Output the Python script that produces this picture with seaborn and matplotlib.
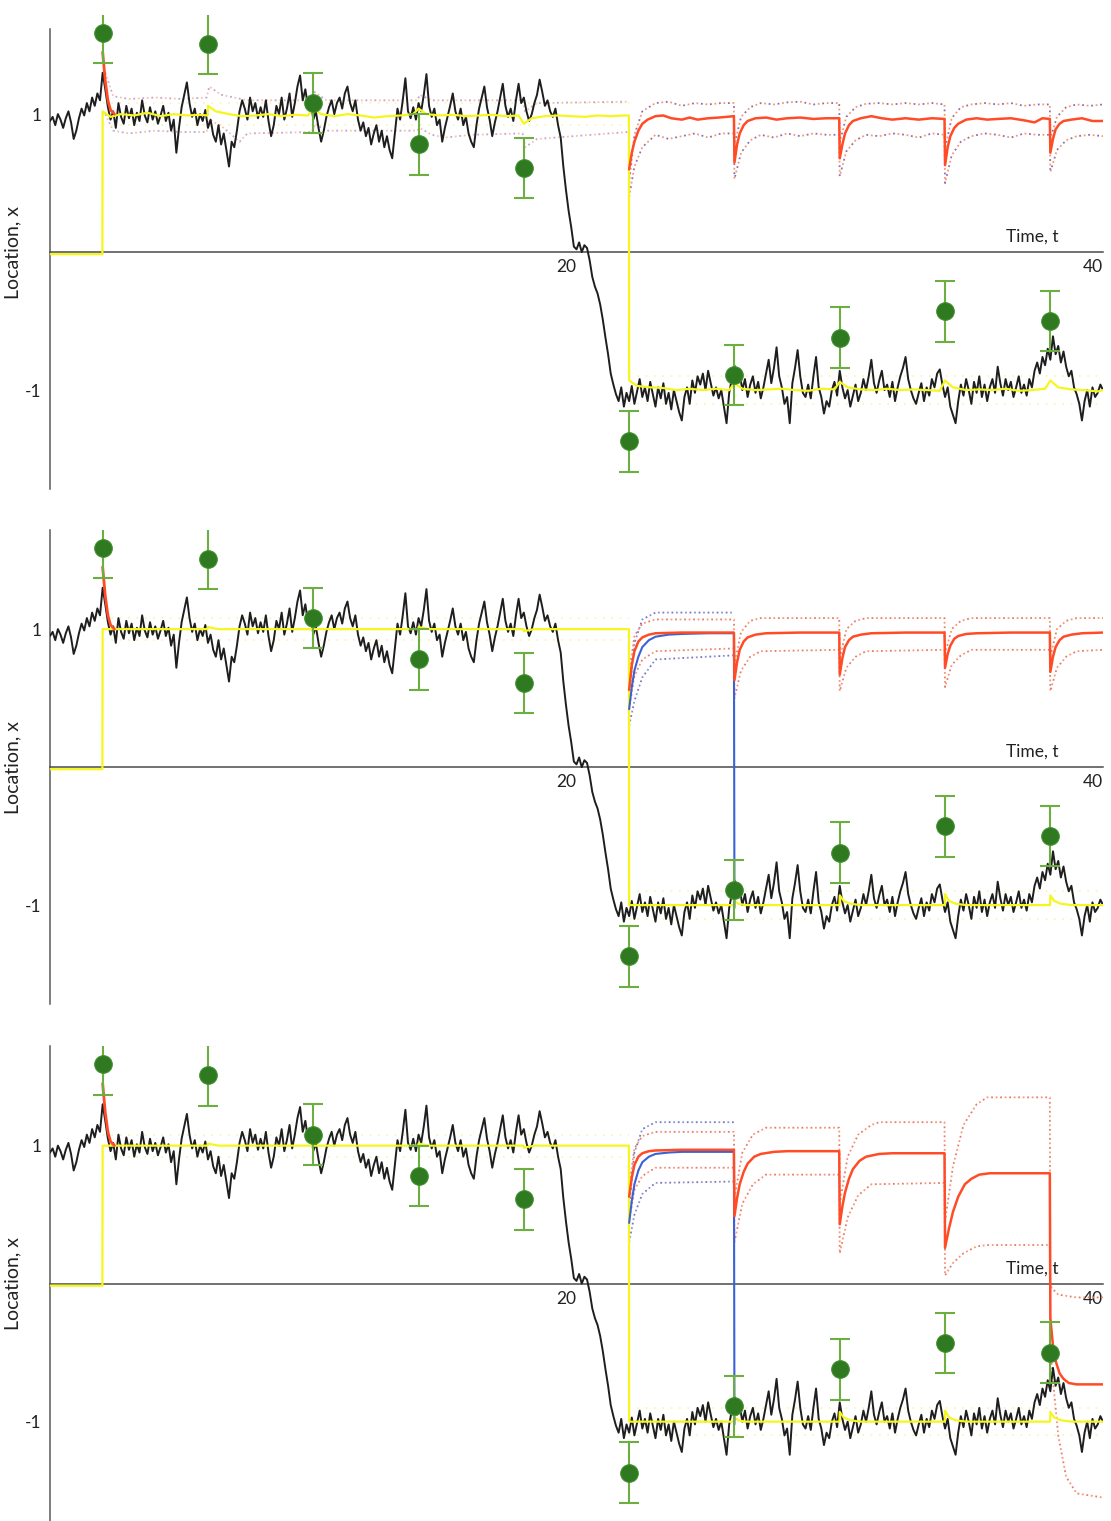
import numpy as np
import pandas as pd
import matplotlib
matplotlib.use("Agg")
import matplotlib.pyplot as plt
import seaborn as sns

# ---------------- data ----------------
time_step = 0.1
trajectory = [
    0.95, 0.98, 0.92, 1.00, 0.96, 0.90, 0.97, 1.02, 0.94, 0.82,
    0.88, 0.97, 1.04, 0.99, 1.08, 1.02, 1.12, 1.06, 1.15, 1.10,
    1.30, 1.18, 1.05, 0.96, 1.02, 0.90, 1.08, 0.98, 0.93, 1.06,
    0.97, 1.04, 0.92, 1.01, 0.95, 1.10, 0.99, 0.94, 1.05, 0.96,
    1.02, 0.93, 0.99, 1.06, 0.95, 1.01, 0.88, 0.96, 0.72, 0.90,
    1.05, 1.14, 1.23, 1.08, 0.98, 1.04, 0.92, 1.00, 0.95, 1.03,
    0.90, 0.96, 0.85, 0.80, 0.92, 0.78, 0.86, 0.74, 0.62, 0.80,
    0.76, 0.88, 1.02, 1.10, 1.04, 0.96, 1.12, 1.02, 1.08, 0.97,
    1.05, 0.98, 1.10, 0.95, 0.84, 0.92, 1.06, 1.00, 1.12, 0.96,
    1.04, 1.15, 0.98, 1.08, 1.20, 1.28, 1.10, 1.18, 1.05, 1.12,
    0.96, 1.02, 0.90, 0.80, 0.88, 0.98, 1.05, 1.10, 1.00, 1.08,
    1.12, 1.04, 1.15, 1.20, 1.08, 1.02, 1.10, 0.96, 0.88, 0.94,
    0.84, 0.90, 0.78, 0.86, 0.92, 0.80, 0.88, 0.76, 0.84, 0.74,
    0.68, 0.86, 1.04, 0.96, 1.10, 1.26, 1.02, 0.97, 1.05, 0.96,
    1.08, 1.02, 1.14, 1.29, 1.06, 0.98, 1.04, 0.92, 0.96, 0.80,
    0.90, 0.98, 1.06, 1.15, 1.02, 0.96, 1.04, 0.92, 0.98, 0.86,
    0.80, 0.76, 0.92, 1.04, 1.12, 1.20, 1.05, 0.96, 0.84, 0.94,
    1.02, 1.12, 1.22, 1.06, 0.98, 1.04, 0.95, 1.10, 1.22, 1.08,
    1.12, 1.02, 0.95, 1.00, 1.08, 1.14, 1.25, 1.16, 1.06, 1.10,
    1.02, 0.98, 1.04, 0.92, 0.83, 0.62, 0.45, 0.30, 0.18, 0.04,
    0.02, 0.07, 0.00, 0.05, 0.03, -0.06, -0.18, -0.25, -0.30, -0.38,
    -0.49, -0.62, -0.74, -0.88, -0.96, -1.03, -1.08, -0.98, -1.12, -1.02,
    -1.08, -0.97, -1.10, -1.01, -0.92, -1.05, -0.98, -1.08, -0.94, -1.03,
    -1.12, -0.98, -1.06, -0.95, -1.10, -1.02, -1.14, -1.00, -1.08, -1.16,
    -1.22, -1.05, -0.98, -1.10, -0.93, -1.02, -0.90, -0.96, -0.88, -1.00,
    -0.86, -0.95, -1.04, -0.98, -1.06, -1.00, -1.12, -1.24, -1.02, -0.92,
    -0.82, -0.95, -0.88, -1.00, -0.92, -1.05, -0.96, -0.90, -1.02, -0.94,
    -1.06, -0.98, -0.88, -0.78, -0.95, -0.84, -0.69, -0.90, -0.98, -1.10,
    -1.05, -1.24, -0.95, -0.84, -0.71, -0.90, -1.02, -1.05, -0.96, -1.06,
    -0.90, -0.76, -0.98, -1.05, -1.17, -1.08, -1.12, -1.00, -0.94, -1.04,
    -0.86, -0.98, -1.06, -1.00, -1.12, -1.04, -0.96, -1.08, -1.02, -0.92,
    -1.00, -0.90, -0.78, -0.95, -1.02, -0.93, -0.86, -1.00, -0.96, -1.05,
    -0.94, -1.08, -0.98, -0.90, -0.84, -0.76, -0.92, -1.00, -1.06, -1.10,
    -1.02, -0.95, -1.08, -0.98, -1.04, -0.92, -0.98, -0.88, -0.85, -0.96,
    -1.05, -0.98, -1.12, -1.18, -1.24, -1.08, -0.96, -1.04, -0.92, -1.00,
    -1.10, -0.94, -1.02, -0.90, -1.05, -0.96, -1.08, -0.98, -0.92, -1.02,
    -0.83, -0.95, -1.04, -0.92, -1.00, -0.94, -1.05, -0.98, -0.90, -1.02,
    -0.96, -1.04, -0.92, -0.98, -0.86, -0.80, -0.88, -0.76, -0.82, -0.70,
    -0.78, -0.61, -0.74, -0.68, -0.80, -0.72, -0.83, -0.90, -0.86, -0.98,
    -1.03, -1.10, -1.22, -1.08, -1.00, -1.12, -0.98, -1.05, -1.02, -0.96,
    -1.00,
]

obs_time = [2, 6, 10, 14, 18, 22, 26, 30, 34, 38]
obs_value = [1.59, 1.51, 1.08, 0.78, 0.61, -1.37, -0.89, -0.62, -0.43, -0.50]
obs_err = [0.22, 0.22, 0.22, 0.22, 0.22, 0.22, 0.22, 0.22, 0.22, 0.22]

yellow_p1 = [
    (0, -0.015), (1.99, -0.015), (2.0, 1.02), (2.3, 0.98), (2.7, 1.0), (3.2, 0.99),
    (3.7, 1.01), (4.2, 0.985), (4.7, 1.0), (5.2, 0.99), (5.7, 0.995), (5.99, 0.99),
    (6.0, 1.06), (6.3, 1.02), (6.8, 1.0), (7.3, 0.985), (7.8, 0.99), (8.3, 1.0),
    (8.8, 0.985), (9.3, 0.995), (9.8, 0.99), (10.0, 1.04), (10.3, 1.0), (10.8, 0.985),
    (11.3, 1.0), (11.8, 0.99), (12.3, 0.975), (12.8, 0.985), (13.3, 0.99), (13.8, 1.0),
    (14.0, 1.04), (14.3, 1.0), (14.8, 0.99), (15.3, 0.995), (15.8, 0.985), (16.3, 0.99),
    (16.8, 0.995), (17.3, 0.985), (17.8, 0.99), (18.0, 0.93), (18.3, 0.97), (18.8, 0.985),
    (19.3, 0.99), (19.8, 0.985), (20.3, 0.98), (20.8, 0.99), (21.3, 0.985), (21.8, 0.99),
    (21.99, 0.99), (22.0, -0.93), (22.3, -0.97), (22.8, -0.98), (23.3, -0.985), (23.8, -1.0),
    (24.3, -0.99), (24.8, -1.0), (25.3, -0.99), (25.8, -1.0), (26.0, -0.95), (26.3, -0.99),
    (26.8, -1.0), (27.3, -0.995), (27.8, -0.99), (28.3, -1.0), (28.8, -1.005), (29.3, -0.99),
    (29.8, -0.995), (30.0, -0.94), (30.3, -0.98), (30.8, -0.995), (31.3, -1.0), (31.8, -0.99),
    (32.3, -1.0), (32.8, -0.995), (33.3, -1.0), (33.8, -1.005), (34.0, -0.93), (34.3, -0.98),
    (34.8, -1.0), (35.3, -0.995), (35.8, -1.0), (36.3, -0.99), (36.8, -1.005), (37.3, -1.0),
    (37.8, -0.99), (38.0, -0.93), (38.3, -0.98), (38.8, -0.995), (39.3, -1.0), (39.8, -1.01),
    (40.0, -1.0),
]
yellow_smooth = [
    (0, -0.015), (1.99, -0.015), (2.0, 1.0), (5.99, 1.0), (6.0, 1.015), (6.4, 1.0),
    (13.99, 1.0), (14.0, 1.015), (14.4, 1.0), (17.99, 1.0), (18.0, 0.985), (18.4, 1.0),
    (21.99, 1.0), (22.0, -1.0), (25.99, -1.0), (26.0, -0.97), (26.15, -0.99), (26.4, -1.0),
    (29.99, -1.0), (30.0, -0.93), (30.15, -0.97), (30.4, -0.99), (30.8, -1.0), (33.99, -1.0),
    (34.0, -0.92), (34.15, -0.97), (34.4, -0.99), (34.8, -1.0), (37.99, -1.0), (38.0, -0.93),
    (38.15, -0.97), (38.4, -0.99), (38.8, -1.0), (40.0, -1.0),
]
yellow_env_segments = [
    [(2.0, 1.08), (21.98, 1.08)], [(2.0, 0.92), (21.98, 0.92)],
    [(22.0, -0.9), (40.0, -0.9)], [(22.0, -1.1), (40.0, -1.1)],
]

red_spike = [(2.0, 1.45), (2.1, 1.24), (2.2, 1.10), (2.3, 1.03), (2.45, 1.0)]

red_p1 = [
    (22.0, 0.60), (22.1, 0.72), (22.2, 0.80), (22.35, 0.88), (22.5, 0.93), (22.7, 0.96),
    (23.0, 0.985), (23.3, 0.99), (23.6, 0.97), (24.0, 0.96), (24.3, 0.975), (24.6, 0.96),
    (25.0, 0.97), (25.4, 0.975), (25.7, 0.98), (25.98, 0.985),
    (26.0, 0.65), (26.1, 0.78), (26.2, 0.86), (26.35, 0.92), (26.5, 0.95), (26.8, 0.97),
    (27.2, 0.975), (27.6, 0.96), (28.0, 0.97), (28.5, 0.975), (29.0, 0.965), (29.5, 0.97),
    (29.98, 0.97),
    (30.0, 0.68), (30.1, 0.78), (30.2, 0.86), (30.35, 0.92), (30.5, 0.95), (30.8, 0.97),
    (31.2, 0.985), (31.6, 0.97), (32.0, 0.96), (32.5, 0.97), (33.0, 0.96), (33.5, 0.97),
    (33.98, 0.965),
    (34.0, 0.63), (34.1, 0.76), (34.2, 0.84), (34.35, 0.90), (34.5, 0.93), (34.8, 0.96),
    (35.2, 0.97), (35.6, 0.96), (36.0, 0.965), (36.5, 0.97), (37.0, 0.955), (37.4, 0.94),
    (37.7, 0.97), (37.98, 0.965),
    (38.0, 0.72), (38.1, 0.82), (38.2, 0.89), (38.35, 0.93), (38.5, 0.95), (38.8, 0.96),
    (39.2, 0.97), (39.6, 0.95), (40.0, 0.95),
]
red_p2 = [
    (22.0, 0.56), (22.1, 0.74), (22.2, 0.84), (22.35, 0.91), (22.5, 0.94), (22.75, 0.96),
    (23.0, 0.97), (24.0, 0.975), (25.0, 0.975), (25.98, 0.975),
    (26.0, 0.63), (26.1, 0.76), (26.2, 0.85), (26.35, 0.91), (26.5, 0.94), (26.8, 0.96),
    (27.2, 0.97), (28.5, 0.975), (29.98, 0.975),
    (30.0, 0.67), (30.1, 0.79), (30.2, 0.87), (30.35, 0.92), (30.5, 0.945), (30.8, 0.96),
    (31.2, 0.97), (32.5, 0.975), (33.98, 0.975),
    (34.0, 0.72), (34.1, 0.82), (34.2, 0.88), (34.35, 0.93), (34.5, 0.95), (34.8, 0.965),
    (35.2, 0.97), (36.5, 0.975), (37.98, 0.975),
    (38.0, 0.69), (38.1, 0.80), (38.2, 0.87), (38.35, 0.92), (38.5, 0.945), (38.8, 0.96),
    (39.2, 0.97), (40.0, 0.975),
]
blue_p2 = [
    (22.0, 0.42), (22.1, 0.58), (22.2, 0.70), (22.35, 0.80), (22.5, 0.87), (22.75, 0.92),
    (23.0, 0.945), (23.5, 0.96), (24.0, 0.965), (25.0, 0.97), (25.98, 0.97), (26.0, -1.02),
]
red_p3 = [
    (22.0, 0.63), (22.1, 0.77), (22.2, 0.86), (22.35, 0.92), (22.5, 0.945), (22.75, 0.96),
    (23.0, 0.965), (24.0, 0.97), (25.98, 0.97),
    (26.0, 0.49), (26.1, 0.62), (26.2, 0.72), (26.35, 0.81), (26.5, 0.87), (26.75, 0.92),
    (27.0, 0.94), (27.5, 0.955), (28.0, 0.96), (29.98, 0.96),
    (30.0, 0.43), (30.1, 0.56), (30.2, 0.66), (30.35, 0.76), (30.5, 0.83), (30.75, 0.89),
    (31.0, 0.92), (31.5, 0.94), (32.0, 0.945), (33.98, 0.945),
    (34.0, 0.26), (34.15, 0.40), (34.3, 0.52), (34.5, 0.63), (34.75, 0.72), (35.0, 0.76),
    (35.3, 0.79), (35.7, 0.80), (37.98, 0.80),
    (38.0, -0.25), (38.1, -0.45), (38.2, -0.56), (38.35, -0.65), (38.5, -0.69),
    (38.7, -0.72), (39.0, -0.73), (40.0, -0.73),
]
blue_p3 = [
    (22.0, 0.44), (22.1, 0.60), (22.2, 0.72), (22.35, 0.82), (22.5, 0.88), (22.75, 0.92),
    (23.0, 0.94), (23.5, 0.95), (24.0, 0.955), (25.98, 0.955), (26.0, -1.02),
]

env_p1_up = [
    (22.0, 0.50), (22.2, 0.85), (22.5, 1.02), (23.0, 1.08), (23.5, 1.09), (24.0, 1.06),
    (24.5, 1.08), (25.0, 1.07), (25.5, 1.08), (25.98, 1.08), (26.0, 0.78), (26.25, 0.98),
    (26.6, 1.05), (27.0, 1.08), (27.5, 1.07), (28.0, 1.085), (28.5, 1.09), (29.0, 1.07),
    (29.5, 1.08), (29.98, 1.08), (30.0, 0.80), (30.25, 0.98), (30.6, 1.05), (31.0, 1.075),
    (31.5, 1.08), (32.0, 1.07), (32.5, 1.08), (33.0, 1.07), (33.5, 1.08), (33.98, 1.07),
    (34.0, 0.75), (34.25, 0.97), (34.6, 1.05), (35.0, 1.07), (35.5, 1.08), (36.0, 1.07),
    (36.5, 1.08), (37.0, 1.06), (37.5, 1.07), (37.98, 1.07), (38.0, 0.82), (38.25, 0.98),
    (38.6, 1.05), (39.0, 1.07), (39.5, 1.06), (40.0, 1.07),
]
env_p1_lo = [
    (22.0, 0.40), (22.2, 0.62), (22.5, 0.76), (23.0, 0.85), (23.5, 0.82), (24.0, 0.84),
    (24.5, 0.86), (25.0, 0.83), (25.5, 0.86), (25.98, 0.86), (26.0, 0.53), (26.25, 0.72),
    (26.6, 0.81), (27.0, 0.85), (27.5, 0.83), (28.0, 0.86), (28.5, 0.84), (29.0, 0.86),
    (29.5, 0.85), (29.98, 0.85), (30.0, 0.55), (30.25, 0.73), (30.6, 0.81), (31.0, 0.85),
    (31.5, 0.84), (32.0, 0.86), (32.5, 0.85), (33.0, 0.83), (33.5, 0.86), (33.98, 0.85),
    (34.0, 0.50), (34.25, 0.70), (34.6, 0.80), (35.0, 0.84), (35.5, 0.86), (36.0, 0.85),
    (36.5, 0.83), (37.0, 0.86), (37.5, 0.85), (37.98, 0.85), (38.0, 0.58), (38.25, 0.74),
    (38.6, 0.81), (39.0, 0.84), (39.5, 0.85), (40.0, 0.84),
]
env_p1_pre_up = [
    (2.1, 1.30), (2.4, 1.13), (3.0, 1.11), (4.0, 1.12), (5.0, 1.11), (5.95, 1.12),
    (6.05, 1.20), (6.5, 1.14), (7.5, 1.10), (9.95, 1.10), (10.05, 1.16), (10.5, 1.10),
    (13.95, 1.10), (14.05, 1.14), (14.5, 1.10), (17.95, 1.10), (18.05, 1.02), (18.5, 1.08),
    (21.95, 1.09),
]
env_p1_pre_lo = [
    (2.1, 1.00), (2.4, 0.88), (3.0, 0.86), (4.0, 0.88), (5.0, 0.87), (5.95, 0.87),
    (6.05, 0.96), (6.6, 0.90), (7.2, 0.80), (7.5, 0.86), (9.95, 0.87), (10.05, 0.93),
    (10.5, 0.88), (13.95, 0.88), (14.05, 0.90), (14.5, 0.85), (15.0, 0.83), (16.0, 0.85),
    (17.95, 0.86), (18.05, 0.76), (18.5, 0.82), (21.95, 0.87),
]

env_p2_blue_up = [(22.0, 0.52), (22.2, 0.90), (22.5, 1.07), (23.0, 1.12), (25.98, 1.12)]
env_p2_blue_lo = [(22.0, 0.30), (22.2, 0.48), (22.5, 0.65), (23.0, 0.78), (25.98, 0.81)]
env_p2_red_up = [
    (22.0, 0.68), (22.2, 0.95), (22.5, 1.04), (23.0, 1.07), (25.98, 1.07), (26.0, 0.74),
    (26.25, 0.98), (26.6, 1.06), (27.0, 1.08), (29.98, 1.08), (30.0, 0.78), (30.25, 1.0),
    (30.6, 1.06), (31.0, 1.08), (33.98, 1.08), (34.0, 0.82), (34.25, 1.0), (34.6, 1.06),
    (35.0, 1.08), (37.98, 1.08), (38.0, 0.80), (38.25, 1.0), (38.6, 1.06), (39.0, 1.08),
    (40.0, 1.08),
]
env_p2_red_lo = [
    (22.0, 0.42), (22.2, 0.66), (22.5, 0.78), (23.0, 0.84), (25.98, 0.86), (26.0, 0.50),
    (26.25, 0.70), (26.6, 0.80), (27.0, 0.84), (29.98, 0.85), (30.0, 0.55), (30.25, 0.72),
    (30.6, 0.80), (31.0, 0.84), (33.98, 0.85), (34.0, 0.58), (34.25, 0.74), (34.6, 0.81),
    (35.0, 0.85), (37.98, 0.85), (38.0, 0.55), (38.25, 0.72), (38.6, 0.80), (39.0, 0.84),
    (40.0, 0.85),
]

env_p3_blue_up = [(22.0, 0.55), (22.2, 0.95), (22.5, 1.12), (23.0, 1.17), (25.98, 1.17)]
env_p3_blue_lo = [(22.0, 0.30), (22.2, 0.50), (22.5, 0.65), (23.0, 0.73), (25.98, 0.74)]
env_p3_red_up = [
    (22.0, 0.70), (22.2, 0.98), (22.5, 1.07), (23.0, 1.10), (25.98, 1.10), (26.0, 0.62),
    (26.3, 0.95), (26.7, 1.08), (27.2, 1.13), (29.98, 1.13), (30.0, 0.58), (30.3, 0.92),
    (30.7, 1.08), (31.2, 1.15), (31.5, 1.17), (33.98, 1.17), (34.0, 0.45), (34.3, 0.85),
    (34.7, 1.15), (35.2, 1.30), (35.6, 1.35), (37.98, 1.35), (38.0, -0.02), (38.3, -0.08),
    (39.0, -0.10), (40.0, -0.10),
]
env_p3_red_lo = [
    (22.0, 0.45), (22.2, 0.68), (22.5, 0.78), (23.0, 0.84), (25.98, 0.84), (26.0, 0.30),
    (26.3, 0.58), (26.7, 0.72), (27.2, 0.79), (29.98, 0.79), (30.0, 0.22), (30.3, 0.48),
    (30.7, 0.64), (31.2, 0.72), (33.98, 0.73), (34.0, 0.06), (34.3, 0.15), (34.7, 0.22),
    (35.2, 0.27), (35.6, 0.28), (37.98, 0.28), (38.0, -0.50), (38.3, -1.10), (38.6, -1.40),
    (39.0, -1.52), (40.0, -1.55),
]

# ---------------- style ----------------
sns.set_theme(style="white")
plt.rcParams["font.family"] = ["Lato", "DejaVu Sans"]

C_BLACK = "#1e1e1e"
C_YELLOW = "#f6f61e"
C_YELLOW_PALE = "#f4f28a"
C_RED = "#ff4b26"
C_BLUE = "#3a62d6"
C_PURPLE = "#7d62a8"
C_CORAL = "#ff8a5c"
C_GREEN = "#2f7a21"
C_GREEN_BAR = "#6cae40"


def frame(pairs):
    return pd.DataFrame(pairs, columns=["t", "x"])


def draw(ax, pairs, color, lw, ls="-", z=2, alpha=1.0):
    sns.lineplot(data=frame(pairs), x="t", y="x", ax=ax, color=color, linewidth=lw,
                 linestyle=ls, estimator=None, sort=False, zorder=z, alpha=alpha,
                 legend=False)


def dotted(ax, pairs, color_a, color_b, z=2, alpha=0.9):
    draw(ax, pairs, color_a, 1.3, ls=(0, (1, 4)), z=z, alpha=alpha)
    draw(ax, pairs, color_b, 1.3, ls=(2.5, (1, 4)), z=z, alpha=alpha)


fig = plt.figure(figsize=(11.11, 15.21), dpi=100)
left, width, height = 0.045, 0.9478, 0.3121
bottoms = [0.6782, 0.3396, 0.0]
traj_df = pd.DataFrame({"t": np.arange(len(trajectory)) * time_step, "x": trajectory})

for i, b in enumerate(bottoms):
    ax = fig.add_axes([left, b, width, height])
    ax.set_xlim(0, 40)
    ax.set_ylim(-1.72, 1.72)

    # faint envelopes around yellow
    for seg in yellow_env_segments:
        draw(ax, seg, C_YELLOW_PALE, 1.2, ls=(0, (1, 4)), z=1.5, alpha=0.7)

    if i == 0:
        dotted(ax, env_p1_pre_up, C_PURPLE, C_CORAL, alpha=0.55)
        dotted(ax, env_p1_pre_lo, C_PURPLE, C_CORAL, alpha=0.55)
        dotted(ax, env_p1_up, C_PURPLE, C_CORAL)
        dotted(ax, env_p1_lo, C_PURPLE, C_CORAL)
    elif i == 1:
        dotted(ax, env_p2_blue_up, C_PURPLE, "#6f8fd8")
        dotted(ax, env_p2_blue_lo, C_PURPLE, "#6f8fd8")
        dotted(ax, env_p2_red_up, C_CORAL, "#d9706a")
        dotted(ax, env_p2_red_lo, C_CORAL, "#d9706a")
    else:
        dotted(ax, env_p3_blue_up, C_PURPLE, "#6f8fd8")
        dotted(ax, env_p3_blue_lo, C_PURPLE, "#6f8fd8")
        dotted(ax, env_p3_red_up, C_CORAL, "#d9706a")
        dotted(ax, env_p3_red_lo, C_CORAL, "#d9706a")

    sns.lineplot(data=traj_df, x="t", y="x", ax=ax, color=C_BLACK, linewidth=1.4,
                 estimator=None, sort=False, zorder=3, legend=False)

    draw(ax, yellow_p1 if i == 0 else yellow_smooth, C_YELLOW, 1.6, z=4)

    if i == 1:
        draw(ax, blue_p2, C_BLUE, 1.5, z=4.5)
    elif i == 2:
        draw(ax, blue_p3, C_BLUE, 1.5, z=4.5)

    draw(ax, red_spike, C_RED, 2.0, z=5)
    draw(ax, [red_p1, red_p2, red_p3][i], C_RED, 1.8, z=5)

    ax.errorbar(obs_time, obs_value, yerr=obs_err, fmt="none", ecolor=C_GREEN_BAR,
                elinewidth=1.5, capsize=7, capthick=1.5, zorder=6)
    sns.scatterplot(x=obs_time, y=obs_value, ax=ax, color=C_GREEN, s=160,
                    edgecolor="#3f8f2e", linewidth=0.8, zorder=7, legend=False)

    # axes styling
    for side in ("top", "right"):
        ax.spines[side].set_visible(False)
    ax.spines["bottom"].set_position(("data", 0))
    ax.spines["bottom"].set_color("#4a4a4a")
    ax.spines["bottom"].set_linewidth(1.1)
    ax.spines["left"].set_color("#5a5a5a")
    ax.spines["left"].set_linewidth(1.1)
    if i == 0:
        ax.spines["left"].set_bounds(-1.72, 1.62)

    ax.set_xticks([20, 40])
    ax.set_xticklabels(["20", "40"])
    for lbl in ax.get_xticklabels():
        lbl.set_horizontalalignment("right")
    ax.tick_params(axis="x", direction="in", length=6, width=1.0, color="#4a4a4a",
                   pad=5, labelsize=12.5, labelcolor="#222222")
    ax.set_yticks([-1, 1])
    ax.set_yticklabels(["-1", "1"])
    ax.tick_params(axis="y", length=0, pad=6, labelsize=12.5, labelcolor="#222222")
    ax.set_xlabel("")
    ax.set_ylabel("Location, x", fontsize=14, labelpad=3, color="#222222")
    ax.text(37.33, 0.11, "Time, t", ha="center", va="center", fontsize=12.5,
            color="#222222")
    ax.patch.set_alpha(0)

fig.savefig("out.png", dpi=100)
